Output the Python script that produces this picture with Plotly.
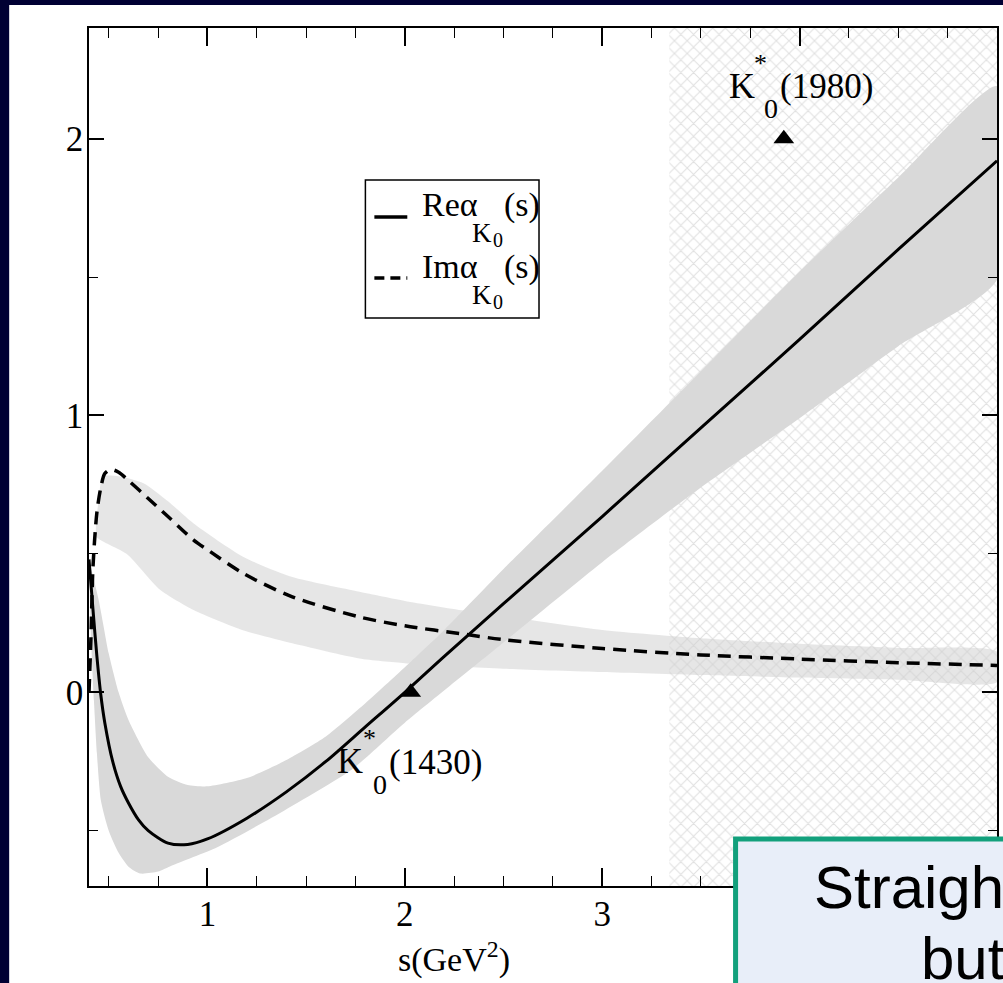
import plotly.graph_objects as go

# ---- Regge trajectory of the K0* pole: real and imaginary parts ----
s_re = [0.40, 0.42, 0.44, 0.46, 0.48, 0.52, 0.56, 0.60, 0.65, 0.70, 0.80, 0.90, 1.00,
        1.20, 1.40, 1.60, 1.80, 2.00, 2.20, 2.50, 3.00, 3.50, 4.00, 4.50, 5.00]
re_alpha = [0.48, 0.30, 0.13, -0.01, -0.11, -0.25, -0.34, -0.40, -0.46, -0.50, -0.545, -0.55, -0.53,
            -0.455, -0.36, -0.25, -0.125, 0.0, 0.13, 0.32, 0.635, 0.955, 1.275, 1.60, 1.92]

# uncertainty band of Re alpha (upper and lower edges)
re_hi_s = [0.40, 0.45, 0.50, 0.55, 0.60, 0.70, 0.80, 0.90, 1.00, 1.20, 1.40, 1.60, 1.80,
           2.00, 2.20, 2.50, 3.00, 3.50, 4.00, 4.50, 5.00]
re_hi = [0.48, 0.33, 0.14, 0.0, -0.10, -0.235, -0.305, -0.335, -0.34, -0.31, -0.245, -0.16, -0.04,
         0.09, 0.225, 0.445, 0.80, 1.16, 1.52, 1.86, 2.19]
re_lo_s = [0.40, 0.41, 0.425, 0.44, 0.46, 0.50, 0.55, 0.60, 0.66, 0.75, 0.82, 1.05, 1.39,
           1.73, 2.00, 2.50, 3.00, 3.50, 4.00, 4.50, 5.00]
re_lo = [0.45, 0.20, -0.03, -0.22, -0.39, -0.50, -0.58, -0.63, -0.655, -0.648, -0.626, -0.56, -0.427,
         -0.28, -0.11, 0.18, 0.47, 0.74, 0.99, 1.25, 1.49]

s_im = [0.40, 0.41, 0.42, 0.44, 0.46, 0.48, 0.51, 0.55, 0.60, 0.70, 0.80, 0.93, 1.00,
        1.18, 1.43, 1.77, 2.00, 2.30, 2.50, 3.00, 3.50, 4.00, 4.50, 5.00]
im_alpha = [0.0, 0.20, 0.45, 0.65, 0.74, 0.79, 0.805, 0.795, 0.765, 0.70, 0.635, 0.55, 0.515,
            0.43, 0.345, 0.272, 0.24, 0.21, 0.19, 0.158, 0.135, 0.12, 0.107, 0.097]

# uncertainty band of Im alpha
im_hi_s = [0.435, 0.45, 0.47, 0.55, 0.676, 0.80, 0.93, 1.18, 1.43, 1.77, 2.00, 2.30, 2.50,
           3.00, 3.50, 4.00, 4.50, 5.00]
im_hi = [0.60, 0.70, 0.78, 0.78, 0.755, 0.69, 0.61, 0.49, 0.416, 0.363, 0.33, 0.295, 0.275,
         0.225, 0.195, 0.175, 0.16, 0.146]
im_lo_s = [0.435, 0.44, 0.59, 0.76, 0.93, 1.18, 1.43, 1.77, 2.00, 2.30, 2.50, 3.00, 3.50,
           4.00, 4.50, 5.00]
im_lo = [0.60, 0.56, 0.50, 0.37, 0.297, 0.224, 0.177, 0.122, 0.105, 0.092, 0.085, 0.073, 0.062,
         0.053, 0.045, 0.037]

# known resonances (mass squared, spin)
res_s = [2.03, 3.92]
res_alpha = [0.0, 2.0]
res_names = ["(1430)", "(1980)"]

# region beyond the fitted energy range
hatch_s = [3.34, 5.0]
x_range = [0.4, 5.0]
y_range = [-0.7, 2.4]

# ---- page geometry ----
W, H = 1003, 983
L, R, T, B = 89, 999, 28, 886
NAVY = "#000033"
SERIF = "Liberation Serif"


def px(xp):
    return (xp - L) / (R - L)


def py(yp):
    return (B - yp) / (B - T)


fig = go.Figure()

# hatched region
fig.add_trace(go.Scatter(
    x=[hatch_s[0], hatch_s[1], hatch_s[1], hatch_s[0], hatch_s[0]],
    y=[y_range[0], y_range[0], y_range[1], y_range[1], y_range[0]],
    mode="lines", line=dict(width=0), fill="toself", fillcolor="rgba(0,0,0,0)",
    fillpattern=dict(shape="x", size=9, solidity=0.22, fgcolor="#c2c2c2", bgcolor="white"),
    hoverinfo="skip", showlegend=False))

# Im band
fig.add_trace(go.Scatter(
    x=im_hi_s + im_lo_s[::-1], y=im_hi + im_lo[::-1],
    mode="lines", line=dict(width=0, shape="spline", smoothing=0.6),
    fill="toself", fillcolor="rgba(205,205,205,0.5)", hoverinfo="skip", showlegend=False))

# Re band
fig.add_trace(go.Scatter(
    x=re_hi_s + re_lo_s[::-1], y=re_hi + re_lo[::-1],
    mode="lines", line=dict(width=0, shape="spline", smoothing=0.6),
    fill="toself", fillcolor="#d9d9d9", hoverinfo="skip", showlegend=False))

# Im alpha (dashed)
fig.add_trace(go.Scatter(
    x=s_im, y=im_alpha, mode="lines",
    line=dict(color="black", width=3.5, dash="13px,8px", shape="spline", smoothing=0.8),
    hoverinfo="skip", showlegend=False))

# Re alpha (solid)
fig.add_trace(go.Scatter(
    x=s_re, y=re_alpha, mode="lines",
    line=dict(color="black", width=3, shape="spline", smoothing=0.8),
    hoverinfo="skip", showlegend=False))

# resonances
fig.add_trace(go.Scatter(
    x=res_s, y=res_alpha, mode="markers",
    marker=dict(symbol="triangle-up", size=18, color="black"),
    hoverinfo="skip", showlegend=False))

axis_common = dict(
    showgrid=False, zeroline=False, showline=True, linecolor="black", linewidth=1.5,
    mirror="allticks", ticks="inside", tickcolor="black", tickwidth=1.5,
    tickfont=dict(family=SERIF, size=35, color="black"),
)
fig.update_xaxes(range=x_range, tickvals=[1, 2, 3, 4], ticklen=18, ticklabelstandoff=-4,
                 minor=dict(dtick=0.25, tick0=0, ticks="inside", ticklen=10,
                            tickwidth=1.3, tickcolor="black"),
                 **axis_common)
fig.update_yaxes(range=y_range, tickvals=[0, 1, 2], ticklen=15, ticklabelstandoff=-3,
                 minor=dict(dtick=0.5, tick0=0, ticks="inside", ticklen=9,
                            tickwidth=1.3, tickcolor="black"),
                 **axis_common)

shapes = []
ann = []


def text(x, y, s, size=32, family=SERIF, xanchor="center", yanchor="middle"):
    ann.append(dict(x=px(x), y=py(y), xref="paper", yref="paper", text=s, showarrow=False,
                    xanchor=xanchor, yanchor=yanchor,
                    font=dict(family=family, size=size, color="black")))


# resonance labels: K with stacked * and 0
for (kx, ky), name in zip([(351, 761), (743, 86)], res_names):
    text(kx, ky, "K", size=36)
    text(kx + 19, ky - 23, "*", size=26)
    text(kx + 30, ky + 23, "0", size=28)
    text(kx + 37, ky + 1, name, size=35, xanchor="left")

# legend box
shapes.append(dict(type="rect", xref="paper", yref="paper", x0=px(366), x1=px(540),
                   y0=py(318), y1=py(180), line=dict(color="black", width=1.5),
                   fillcolor="white", layer="above"))
shapes.append(dict(type="line", xref="paper", yref="paper", x0=px(375), x1=px(408),
                   y0=py(217), y1=py(217), line=dict(color="black", width=3.5), layer="above"))
shapes.append(dict(type="line", xref="paper", yref="paper", x0=px(375), x1=px(408),
                   y0=py(278), y1=py(278), line=dict(color="black", width=3.5, dash="10px,6px"),
                   layer="above"))
for yy, lab in [(205, "Reα"), (267, "Imα")]:
    text(421, yy, lab, size=34, xanchor="left")
    text(471, yy + 28, "K", size=27, xanchor="left")
    text(492, yy + 35, "0", size=20, xanchor="left")
    text(503, yy, "(s)", size=34, xanchor="left")

# axis title
text(455, 957, "s(GeV<sup>2</sup>)", size=34)

# navy slide frame
shapes.append(dict(type="rect", xref="paper", yref="paper", x0=px(-10), x1=px(W + 10),
                   y0=py(5), y1=py(-10), line=dict(width=0), fillcolor=NAVY, layer="above"))
shapes.append(dict(type="rect", xref="paper", yref="paper", x0=px(-10), x1=px(9),
                   y0=py(H + 10), y1=py(-10), line=dict(width=0), fillcolor=NAVY, layer="above"))

# caption box in the lower right corner
shapes.append(dict(type="rect", xref="paper", yref="paper", x0=px(737), x1=px(W + 20),
                   y0=py(H + 20), y1=py(839), line=dict(color="#12a07c", width=5),
                   fillcolor="#e8eef9", layer="above"))
text(814, 887, "Straight", size=60, family="Liberation Sans", xanchor="left")
text(921, 958, "but", size=60, family="Liberation Sans", xanchor="left")

fig.update_layout(
    width=W, height=H, margin=dict(l=L, r=W - R, t=T, b=H - B, pad=0),
    paper_bgcolor="white", plot_bgcolor="white",
    shapes=shapes, annotations=ann, showlegend=False,
)

fig.write_html("out.html")
